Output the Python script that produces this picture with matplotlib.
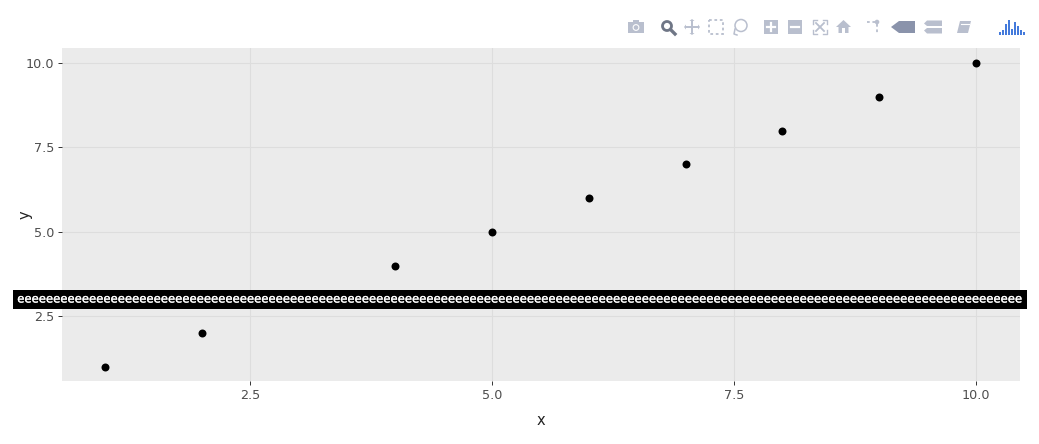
import matplotlib
matplotlib.use('Agg')
import matplotlib.pyplot as plt
import matplotlib.patheffects as pe
from matplotlib.patches import Rectangle, Polygon, Circle

plt.rcParams['font.family'] = ['DejaVu Sans']

W, H = 1039, 444

x = [1, 2, 3, 4, 5, 6, 7, 8, 9, 10]
y = [1, 2, 3, 4, 5, 6, 7, 8, 9, 10]
ticks = [2.5, 5.0, 7.5, 10.0]
tick_labels = ['2.5', '5.0', '7.5', '10.0']
band_text = 'e' * 140

fig = plt.figure(figsize=(W / 100, H / 100), dpi=100, facecolor='white')

# panel in pixel box
L, R, T, B = 62, 1020, 48, 381
ax = fig.add_axes([L / W, 1 - B / H, (R - L) / W, (B - T) / H])
ax.set_facecolor('#ebebeb')
ax.scatter(x, y, s=33, color='black', linewidths=0, zorder=3)
ax.set_xlim(0.556, 10.455)
ax.set_ylim(0.586, 10.444)
ax.set_xticks(ticks)
ax.set_xticklabels(tick_labels)
ax.set_yticks(ticks)
ax.set_yticklabels(tick_labels)
ax.grid(True, color='#dddddd', linewidth=0.8)
ax.set_axisbelow(True)
ax.tick_params(length=2.6, width=0.7, color='#333333', labelcolor='#4d4d4d', labelsize=9.2, pad=3)
for s in ax.spines.values():
    s.set_visible(False)
ax.set_xlabel('x', fontsize=10.5, color='#222222', labelpad=8)
ax.set_ylabel('y', fontsize=10.5, color='#222222')
ax.yaxis.set_label_coords((33 - L) / (R - L), 0.5)

# overlay in pixel coords: annotation band + modebar
ov = fig.add_axes([0, 0, 1, 1], zorder=10)
ov.set_xlim(0, W)
ov.set_ylim(H, 0)
ov.axis('off')
ov.patch.set_alpha(0)

ov.add_patch(Rectangle((13, 289.5), 1014, 19.5, facecolor='black', edgecolor='none'))
ov.text(516, 299, band_text, color='white', fontsize=8.4, ha='center', va='center',
        path_effects=[pe.withStroke(linewidth=0.2, foreground='white')])

GREY = '#b9bfce'
DARK = '#6f7686'
MID = '#8a93ab'


def rect(x0, y0, w, h, c=GREY):
    ov.add_patch(Rectangle((x0, y0), w, h, facecolor=c, edgecolor='none'))


# camera
rect(628, 22, 16, 11)
rect(633, 20, 6, 3)
ov.add_patch(Circle((636, 27.5), 3.4, facecolor='white', edgecolor='none'))
ov.add_patch(Circle((636, 27.5), 2.3, facecolor=GREY, edgecolor='none'))
# magnifier (active)
ov.add_patch(Circle((667, 26), 4.5, facecolor='none', edgecolor=DARK, linewidth=2))
ov.plot([671, 675], [30, 34], color=DARK, linewidth=2.4)
# pan
ov.plot([686, 698], [27, 27], color=GREY, linewidth=1.4)
ov.plot([692, 692], [21, 33], color=GREY, linewidth=1.4)
for p in ([(686, 24.5), (686, 29.5), (684, 27)], [(698, 24.5), (698, 29.5), (700, 27)],
          [(689.5, 21), (694.5, 21), (692, 19)], [(689.5, 33), (694.5, 33), (692, 35)]):
    ov.add_patch(Polygon(p, facecolor=GREY, edgecolor='none'))
# box select
ov.add_patch(Rectangle((709, 20), 14, 14, facecolor='none', edgecolor=GREY, linewidth=1.3, linestyle=(0, (1.5, 1.5))))
# lasso
ov.add_patch(Circle((741, 25.5), 6, facecolor='none', edgecolor=GREY, linewidth=1.1))
ov.plot([735, 734, 737], [29, 34, 35], color=GREY, linewidth=1.1)
# zoom in / out
rect(764, 20, 14, 14)
ov.plot([767, 775], [27, 27], color='white', linewidth=1.6)
ov.plot([771, 771], [23, 31], color='white', linewidth=1.6)
rect(788, 20, 14, 14)
ov.plot([791, 799], [27, 27], color='white', linewidth=1.6)
# autoscale
for cx, cy, dx, dy in [(813, 20, 1, 1), (827, 20, -1, 1), (813, 34, 1, -1), (827, 34, -1, -1)]:
    ov.plot([cx + 4 * dx, cx, cx], [cy, cy, cy + 4 * dy], color=GREY, linewidth=1)
ov.plot([816, 824], [23, 31], color=GREY, linewidth=1.3)
ov.plot([824, 816], [23, 31], color=GREY, linewidth=1.3)
# home
ov.add_patch(Polygon([(836, 27), (843.5, 20), (851, 27), (848.5, 27), (848.5, 33), (838.5, 33), (838.5, 27)], facecolor=GREY, edgecolor='none'))
ov.add_patch(Rectangle((842, 28), 3, 5, facecolor='white', edgecolor='none'))
# spikelines
ov.plot([867, 875], [22, 22], color=GREY, linewidth=1.3, linestyle=(0, (1.5, 1.5)))
ov.plot([877, 877], [24, 33], color=GREY, linewidth=1.3, linestyle=(0, (1.5, 1.5)))
ov.add_patch(Circle((877, 22), 2.3, facecolor=GREY, edgecolor='none'))
# hover closest
ov.add_patch(Polygon([(891, 27), (899, 21), (915, 21), (915, 33), (899, 33)], facecolor=MID, edgecolor='none'))
# hover compare
ov.add_patch(Polygon([(924, 23.5), (927, 20.5), (942, 20.5), (942, 26), (927, 26)], facecolor=GREY, edgecolor='none'))
ov.add_patch(Polygon([(924, 30.5), (927, 28), (942, 28), (942, 33.5), (927, 33.5)], facecolor=GREY, edgecolor='none'))
# book
ov.add_patch(Polygon([(960, 21), (971, 21), (968, 33), (957, 33)], facecolor=GREY, edgecolor='none'))
ov.plot([961, 969], [24, 24], color='white', linewidth=0.8)
# plotly logo bars
for bx, top in zip(range(999, 1024, 3), [32, 30, 24, 20, 29, 22, 26, 30, 32]):
    rect(bx, top, 2, 35 - top, c='#447adb')

fig.savefig('out.png', dpi=100)
